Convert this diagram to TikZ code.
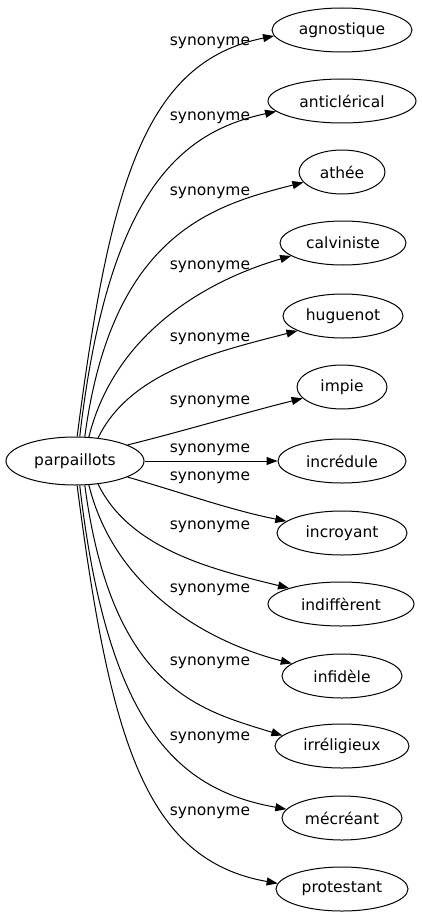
\documentclass[tikz,border=0pt]{standalone}
\usepackage{fontspec}
\setmainfont{DejaVu Sans}
\usetikzlibrary{shapes.geometric,arrows.meta}
\begin{document}
\begin{tikzpicture}[x=1pt,y=-1pt,
  word/.style={draw,line width=1pt,ellipse,inner sep=0pt,minimum height=44pt,font=\fontsize{15.5}{18}\selectfont},
  lbl/.style={inner sep=0pt,font=\fontsize{15.5}{18}\selectfont},
  edge/.style={draw,line width=1pt,-{Triangle[length=11pt,width=8pt]}}]
\useasboundingbox (0,0) rectangle (422,923);
\node[word,minimum width=138pt,minimum height=48pt] (p) at (75,461) {parpaillots};
\node[word,minimum width=140pt] (n1) at (342,30) {agnostique};
\node[word,minimum width=148pt] (n2) at (342,101) {anticlérical};
\node[word,minimum width=86pt] (n3) at (342,172) {athée};
\node[word,minimum width=126pt] (n4) at (343,243) {calviniste};
\node[word,minimum width=120pt] (n5) at (343,316) {huguenot};
\node[word,minimum width=90pt] (n6) at (342,387) {impie};
\node[word,minimum width=128pt] (n7) at (342,461) {incrédule};
\node[word,minimum width=130pt] (n8) at (342,533) {incroyant};
\node[word,minimum width=146pt] (n9) at (341,604) {indiffèrent};
\node[word,minimum width=120pt] (n10) at (342,676) {infidèle};
\node[word,minimum width=134pt] (n11) at (342,746) {irréligieux};
\node[word,minimum width=120pt] (n12) at (342,818) {mécréant};
\node[word,minimum width=132pt] (n13) at (342,889) {protestant};
\node[lbl] (l1) at (210,43) {synonyme};
\node[lbl] (l2) at (210,118) {synonyme};
\node[lbl] (l3) at (210,193) {synonyme};
\node[lbl] (l4) at (210,267) {synonyme};
\node[lbl] (l5) at (210,339) {synonyme};
\node[lbl] (l6) at (210,402) {synonyme};
\node[lbl] (l7) at (210,450) {synonyme};
\node[lbl] (l8) at (210,478) {synonyme};
\node[lbl] (l9) at (210,527) {synonyme};
\node[lbl] (l10) at (210,590) {synonyme};
\node[lbl] (l11) at (210,663) {synonyme};
\node[lbl] (l12) at (210,738) {synonyme};
\node[lbl] (l13) at (210,813) {synonyme};
\path[edge] (p.85) .. controls (110,182) and (145,62) .. (n1.185);
\path[edge] (p.79) .. controls (108,192) and (180,132) .. (n2.189);
\path[edge] (p.68) .. controls (112,232) and (215,205) .. (n3.195);
\path[edge] (p.60) .. controls (115,332) and (208,280) .. (n4.194);
\path[edge] (p.45) .. controls (130,372) and (215,352) .. (n5.198);
\path[edge] (p.17) .. controls (180,432) and (240,414) .. (n6.196);
\path[edge] (p) -- (n7);
\path[edge] (p.-17) .. controls (180,492) and (230,510) .. (n8.168);
\path[edge] (p.-45) .. controls (130,550) and (215,570) .. (n9.163);
\path[edge] (p.-60) .. controls (115,590) and (208,642) .. (n10.166);
\path[edge] (p.-68) .. controls (112,690) and (200,710) .. (n11.170);
\path[edge] (p.-79) .. controls (108,730) and (180,790) .. (n12.171);
\path[edge] (p.-85) .. controls (110,740) and (145,860) .. (n13.175);
\end{tikzpicture}
\end{document}
